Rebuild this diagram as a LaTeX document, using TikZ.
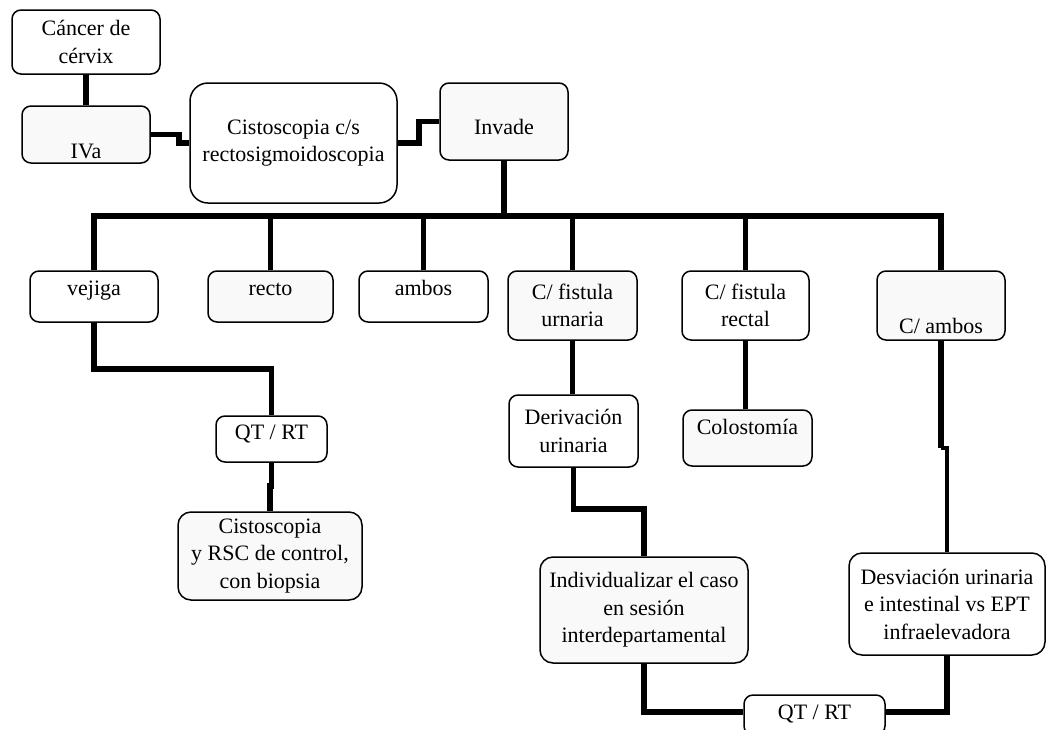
\documentclass[tikz,border=0pt]{standalone}
\usepackage{fontspec}
\setmainfont{Liberation Serif}
\begin{document}
\begin{tikzpicture}[x=1pt,y=-1pt,
  box/.style={draw=black,line width=1.5pt,rounded corners=9pt,inner sep=0pt,
    align=center,font=\fontsize{22}{27.5}\selectfont,fill=white},
  shaded/.style={box,fill=gray!5},
  sz/.style 2 args={minimum width=#1,minimum height=#2},
  lower/.style={text height=#1,text depth=0pt},
  upper/.style={text height=0pt,text depth=#1},
  conn/.style={line width=5.5pt,line cap=butt,line join=miter}]
\useasboundingbox (0,0) rectangle (1047,729);

% top chain
\node[box,sz={148}{64}] (cancer) at (86,42) {Cáncer de\\cérvix};
\node[shaded,sz={128}{57},lower=48pt] (iva) at (86,134.5) {IVa};
\node[box,sz={207}{120},rounded corners=18pt] (cisto) at (293.5,143) {Cistoscopia c/s\\rectosigmoidoscopia};
\node[shaded,sz={128}{77},lower=26pt] (invade) at (504,121.5) {Invade};

% branches
\node[box,sz={128}{51},upper=2pt] (vejiga) at (94,296.5) {vejiga};
\node[shaded,sz={125}{51},upper=2pt] (recto) at (270.5,296.5) {recto};
\node[box,sz={129}{51},upper=2pt] (ambos) at (423.5,296.5) {ambos};
\node[shaded,sz={129}{69}] (furin) at (572.5,305.5) {C/ fistula\\urnaria};
\node[box,sz={127}{69}] (frect) at (745.5,305.5) {C/ fistula\\rectal};
\node[shaded,sz={128}{69},lower=56pt] (cambos) at (941,305.5) {C/ ambos};

% second level
\node[box,sz={111}{46},lower=0pt] (qtrt1) at (271.5,439) {QT / RT};
\node[shaded,sz={184}{88},rounded corners=13pt] (cistorsc) at (270,556) {Cistoscopia\\y RSC de control,\\con biopsia};
\node[box,sz={129}{72}] (deriv) at (573.5,431) {Derivación\\urinaria};
\node[shaded,sz={129}{56},upper=7pt] (colos) at (747.5,438) {Colostomía};
\node[shaded,sz={208}{106},rounded corners=13pt] (indiv) at (644,610) {Individualizar el caso\\en sesión\\interdepartamental};
\node[box,sz={196}{102},rounded corners=13pt] (desv) at (947,604) {Desviación urinaria\\e intestinal vs EPT\\infraelevadora};
\node[box,sz={141}{40},lower=9pt] (qtrt2) at (814.5,715) {QT / RT};

% connectors
\coordinate (bus) at (504,216);
\draw[conn] (cancer.south) -- (iva.north);
\draw[conn] (iva.east) -- ++(28,0) |- (cisto.west);
\draw[conn] (cisto.east) -- ++(21,0) |- (invade.west);
\draw[conn] (invade.south) -- (bus);
\draw[conn] (vejiga.north) |- (bus) -| (cambos.north);
\draw[conn] (recto.north) -- (recto.north |- bus);
\draw[conn] (ambos.north) -- (ambos.north |- bus);
\draw[conn] (furin.north) -- (furin.north |- bus);
\draw[conn] (frect.north) -- (frect.north |- bus);

\draw[conn] (vejiga.south) -- ++(0,46) -| (qtrt1.north);
\draw[conn] (qtrt1.south) -- ++(0,23) -| (cistorsc.north);
\draw[conn] (furin.south) -- (furin.south |- deriv.north);
\draw[conn] (deriv.south) -- ++(0,41) -| (indiv.north);
\draw[conn] (frect.south) -- (frect.south |- colos.north);
\draw[conn] (cambos.south) -- ++(0,107) coordinate (jog);
\draw[conn,line width=3.5pt] (jog) -| (desv.north);
\draw[conn] (indiv.south) |- ([yshift=3pt]qtrt2.west);
\draw[conn] (desv.south) |- ([yshift=3pt]qtrt2.east);
\end{tikzpicture}
\end{document}
